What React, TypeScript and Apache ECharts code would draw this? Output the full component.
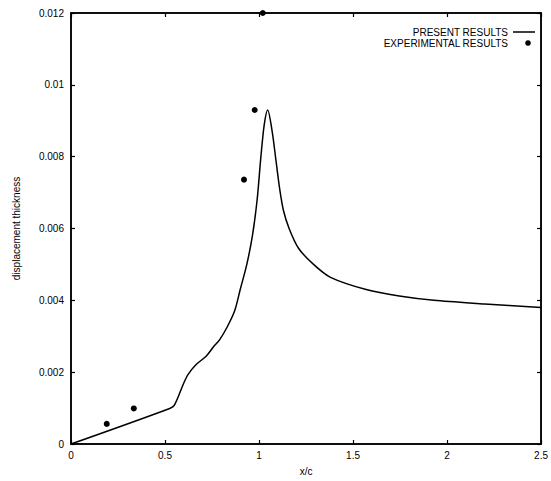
import React, { useEffect, useRef } from "react";
import * as echarts from "echarts";

const curveX = [0, 0.525, 0.55, 0.6, 0.623, 0.667, 0.72, 0.76, 0.79, 0.83, 0.87, 0.9, 0.935, 0.965, 0.99, 1.01, 1.028, 1.046, 1.07, 1.09, 1.11, 1.13, 1.16, 1.21, 1.29, 1.38, 1.57, 1.746, 1.93, 2.2, 2.5];
const curveY = [0, 0.00099, 0.00108, 0.0017, 0.00194, 0.00222, 0.00245, 0.00272, 0.0029, 0.00325, 0.0037, 0.0043, 0.005, 0.0058, 0.0068, 0.008, 0.0089, 0.0093, 0.0087, 0.0079, 0.0071, 0.0065, 0.006, 0.00545, 0.005, 0.00464, 0.0043, 0.00412, 0.004, 0.0039, 0.0038];

const expX = [0.19, 0.334, 0.92, 0.977, 1.02];
const expY = [0.00056, 0.00099, 0.00736, 0.0093, 0.012];

const seriesNames = ["PRESENT RESULTS", "EXPERIMENTAL RESULTS"];
const xTitle = "x/c";
const yTitle = "displacement thickness";

export default function App() {
  const ref = useRef<HTMLDivElement>(null);
  useEffect(() => {
    if (!ref.current) return;
    const chart = echarts.init(ref.current, null, { renderer: "svg" });
    const font = "Liberation Sans";
    const axisLine = { show: true, onZero: false, lineStyle: { color: "#000", width: 1.5 } };
    const tick = { show: true, inside: true, length: 4, lineStyle: { color: "#000", width: 1.2 } };
    const label = { color: "#000", fontFamily: font, fontSize: 10 };
    const legendText = { fill: "#000", fontFamily: font, fontSize: 10, align: "right", verticalAlign: "middle" };
    chart.setOption({
      animation: false,
      backgroundColor: "#fff",
      grid: { left: 71, right: 8, top: 13, bottom: 37, show: true, borderColor: "#000", borderWidth: 1.5, backgroundColor: "transparent" },
      graphic: [
        { type: "text", x: 508, y: 32, style: { ...legendText, text: seriesNames[0] } },
        { type: "line", shape: { x1: 513, y1: 32, x2: 535, y2: 32 }, style: { stroke: "#000", lineWidth: 1.5 } },
        { type: "text", x: 508, y: 43, style: { ...legendText, text: seriesNames[1] } },
        { type: "circle", shape: { cx: 528, cy: 43, r: 2.8 }, style: { fill: "#000" } },
      ],
      xAxis: [
        {
          type: "value",
          min: 0,
          max: 2.5,
          interval: 0.5,
          position: "bottom",
          name: xTitle,
          nameLocation: "middle",
          nameGap: 22,
          nameTextStyle: { color: "#000", fontFamily: font, fontSize: 10 },
          axisLine,
          axisTick: tick,
          axisLabel: { ...label, margin: 6 },
          splitLine: { show: false },
        },
        {
          type: "value",
          min: 0,
          max: 2.5,
          interval: 0.5,
          position: "top",
          axisLine,
          axisTick: tick,
          axisLabel: { show: false },
          splitLine: { show: false },
        },
      ],
      yAxis: [
        {
          type: "value",
          min: 0,
          max: 0.012,
          interval: 0.002,
          position: "left",
          name: yTitle,
          nameLocation: "middle",
          nameGap: 50,
          nameRotate: 90,
          nameTextStyle: { color: "#000", fontFamily: font, fontSize: 10 },
          axisLine,
          axisTick: tick,
          axisLabel: { ...label, margin: 7 },
          splitLine: { show: false },
        },
        {
          type: "value",
          min: 0,
          max: 0.012,
          interval: 0.002,
          position: "right",
          axisLine,
          axisTick: tick,
          axisLabel: { show: false },
          splitLine: { show: false },
        },
      ],
      series: [
        {
          name: seriesNames[0],
          type: "line",
          data: curveX.map((x, i) => [x, curveY[i]]),
          symbol: "none",
          smooth: 0.3,
          lineStyle: { color: "#000", width: 1.5 },
          itemStyle: { color: "#000" },
        },
        {
          name: seriesNames[1],
          type: "scatter",
          data: expX.map((x, i) => [x, expY[i]]),
          symbol: "circle",
          symbolSize: 6,
          itemStyle: { color: "#000", opacity: 1 },
        },
        {
          name: "mirror",
          type: "line",
          xAxisIndex: 1,
          yAxisIndex: 1,
          data: [[0, 0]],
          symbol: "none",
          silent: true,
          lineStyle: { opacity: 0 },
        },
      ],
    });
    return () => chart.dispose();
  }, []);
  return (
    <div
      ref={ref}
      style={{ position: "fixed", left: 0, top: 0, width: 551, height: 481, background: "#fff" }}
    />
  );
}
